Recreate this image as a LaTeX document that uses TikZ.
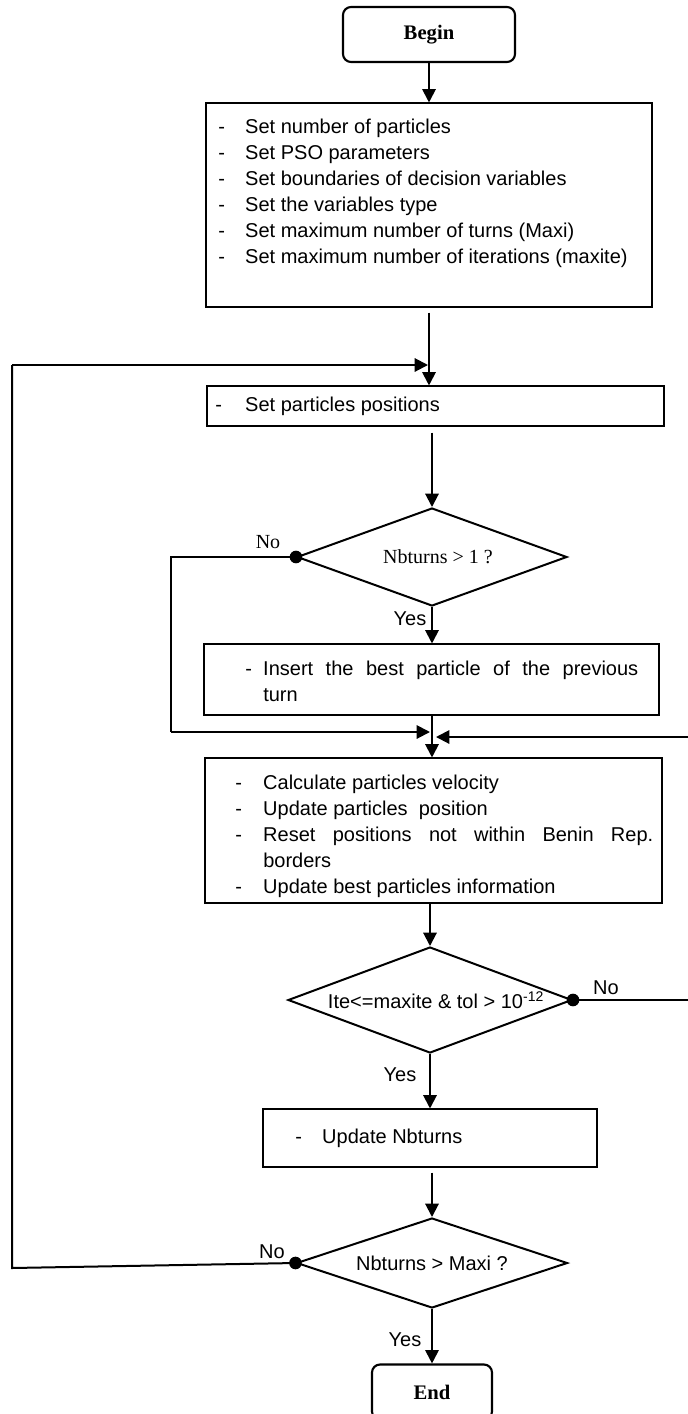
\documentclass[tikz,border=0pt]{standalone}
\usepackage{fontspec}
\setmainfont{Liberation Sans}
\newfontfamily\tms{Liberation Serif}
\usetikzlibrary{arrows.meta,shapes.geometric,calc}
\newcommand{\dsh}[1]{\makebox[#1][l]{-}}
\tikzset{
  ln/.style={line width=1.5pt},
  arr/.style={line width=1.5pt,-{Triangle[length=10pt,width=10pt]}},
  pbox/.style={draw, line width=0.8pt, rectangle, inner sep=0pt},
  term/.style={draw, line width=1.6pt, rounded corners=6pt, inner sep=0pt, font=\tms\bfseries\fontsize{15.5}{18}\selectfont},
  dia/.style={draw, line width=1.5pt, diamond, inner sep=0pt},
  txt/.style={inner sep=0pt, align=left, font=\fontsize{15}{19.5}\selectfont},
  lab/.style={inner sep=0pt, font=\fontsize{15}{18}\selectfont},
  slab/.style={inner sep=0pt, font=\tms\fontsize{15}{18}\selectfont},
  dot/.style={circle, fill, inner sep=0pt, minimum size=9.5pt},
}
\begin{document}
\begin{tikzpicture}[x=0.75pt,y=-0.75pt]
\useasboundingbox (0,0) rectangle (688,1414);
% terminals
\node[term, minimum width=129pt, minimum height=41.25pt] (begin) at (429,34.5) {Begin};
\node[term, minimum width=90pt, minimum height=41.25pt] (end) at (432,1392) {End};
% boxes
\node[pbox, minimum width=334.5pt, minimum height=153pt] (b1) at (429,205) {};
\node[txt, anchor=north west] (t1) at (218,119) {\dsh{20.25pt}Set number of particles\\
\dsh{20.25pt}Set PSO parameters\\
\dsh{20.25pt}Set boundaries of decision variables\\
\dsh{20.25pt}Set the variables type\\
\dsh{20.25pt}Set maximum number of turns (Maxi)\\
\dsh{20.25pt}Set maximum number of iterations (maxite)};
\node[pbox, minimum width=342.75pt, minimum height=30pt] (b2) at (435.5,406) {};
\node[txt, anchor=west] (t2) at (215,406) {\dsh{22.5pt}Set particles positions};
\node[dia, minimum width=202.5pt, minimum height=73.5pt] (d1) at (432,557) {};
\node[slab] (t3) at (438,557) {Nbturns > 1 ?};
\node[pbox, minimum width=341.25pt, minimum height=53.25pt] (b3) at (431.5,679.5) {};
\node[txt, anchor=north west] (t4) at (245,661) {\dsh{13.5pt}\makebox[281.25pt][s]{Insert the best particle of the previous}\\
\hspace*{13.5pt}turn};
\node[pbox, minimum width=342.75pt, minimum height=108.75pt] (b4) at (433.5,830.5) {};
\node[txt, anchor=north west] (t5) at (235,775) {\dsh{21pt}Calculate particles velocity\\
\dsh{21pt}Update particles\ \ position\\
\dsh{21pt}\makebox[292.5pt][s]{Reset positions not within Benin Rep.}\\
\hspace*{21pt}borders\\
\dsh{21pt}Update best particles information};
\node[dia, minimum width=213pt, minimum height=79.5pt] (d2) at (430,1000) {};
\node[lab] (t6) at (436,1000) {Ite<=maxite \& tol > 10\textsuperscript{-12}};
\node[pbox, minimum width=250.5pt, minimum height=43.5pt] (b5) at (430,1138) {};
\node[txt, anchor=west] (t7) at (295,1138) {\dsh{20.25pt}Update Nbturns};
\node[dia, minimum width=203.25pt, minimum height=67.5pt] (d3) at (432,1263) {};
\node[lab] (t8) at (432,1263) {Nbturns > Maxi ?};
% labels
\node[slab] (no1) at (268,542) {No};
\node[lab] (yes1) at (410,619) {Yes};
\node[lab] (no2) at (606,988) {No};
\node[lab] (yes2) at (400,1075) {Yes};
\node[lab] (no3) at (272,1252) {No};
\node[lab] (yes3) at (405,1340) {Yes};
% dots
\node[dot] (dot1) at (d1.west) {};
\node[dot] (dot2) at (d2.east) {};
\node[dot] (dot3) at (d3.west) {};
% coordinates for loops
\coordinate (l1) at (12,1268);
\coordinate (l2) at (12,365);
\coordinate (m1) at (171,557);
\coordinate (m2) at (171,732);
\coordinate (r1) at (690,1000);
\coordinate (r2) at (690,737);
% connectors
\draw[arr] (begin.south) -- (begin.south |- b1.north);
\draw[arr] ($(b1.south)+(0,5)$) -- (b1.south |- b2.north);
\draw[ln] (dot3.center) -- (l1) -- (l2);
\draw[arr] (l2) -- ($(b1.south |- l2)+(-1,0)$);
\draw[arr] ($(d1.north |- b2.south)+(0,6)$) -- (d1.north);
\draw[arr] (d1.south) -- (d1.south |- b3.north);
\draw[ln] (dot1.center) -- (m1) -- (m2);
\draw[arr] (m2) -- ($(d1.south |- m2)+(-2,0)$);
\draw[ln] (dot2.center) -- (r1) -- (r2);
\draw[arr] (r2) -- ($(d1.south |- r2)+(4,0)$);
\draw[arr] (b3.south -| d1.south) -- (d1.south |- b4.north);
\draw[arr] (b4.south -| d2.north) -- (d2.north);
\draw[arr] (d2.south) -- (d2.south |- b5.north);
\draw[arr] ($(b5.south -| d3.north)+(0,5)$) -- (d3.north);
\draw[arr] (d3.south) -- (d3.south |- end.north);
\end{tikzpicture}
\end{document}
